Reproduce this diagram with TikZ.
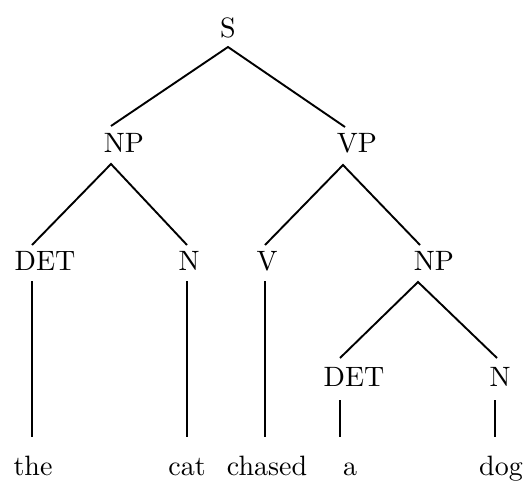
\documentclass[tikz,border=0pt]{standalone}
\usepackage{fontspec}
\setmainfont{lmroman10-regular}[Extension=.otf]
\begin{document}
\begin{tikzpicture}[x=1pt,y=-1pt,
  lbl/.style={anchor=base,inner sep=0pt,font=\fontsize{28}{34}\selectfont},
  edge/.style={line width=1.9pt,line cap=butt}]
\useasboundingbox (0,0) rectangle (526,481);
% labels
\node[lbl] (S) at (228,38) {S};
\node[lbl] (NP) at (124,152) {NP};
\node[lbl] (VP) at (357,152) {VP};
\node[lbl] (DETa) at (45,270) {DET};
\node[lbl] (Na) at (189,270) {N};
\node[lbl] (V) at (267,270) {V};
\node[lbl] (NPb) at (434,270) {NP};
\node[lbl] (DETb) at (354,386) {DET};
\node[lbl] (Nb) at (500,386) {N};
\node[lbl] (the) at (33,475) {the};
\node[lbl] (cat) at (187,475) {cat};
\node[lbl] (chased) at (267,475) {chased};
\node[lbl] (a) at (350,475) {a};
\node[lbl] (dog) at (501,475) {dog};
% attachment points
\coordinate (S-b) at (228,47);
\coordinate (NP-t) at (111,126);
\coordinate (NP-b) at (111,164);
\coordinate (VP-t) at (345,127);
\coordinate (VP-b) at (343,165);
\coordinate (DETa-t) at (32,245);
\coordinate (DETa-b) at (32,281);
\coordinate (Na-t) at (187,245);
\coordinate (Na-b) at (187,281);
\coordinate (V-t) at (265,245);
\coordinate (V-b) at (265,281);
\coordinate (NPb-t) at (420,245);
\coordinate (NPb-b) at (418,282);
\coordinate (DETb-t) at (340,358);
\coordinate (DETb-b) at (340,400);
\coordinate (Nb-t) at (497,358);
\coordinate (Nb-b) at (495,400);
\coordinate (the-t) at (32,437);
\coordinate (cat-t) at (187,437);
\coordinate (chased-t) at (265,437);
\coordinate (a-t) at (340,437);
\coordinate (dog-t) at (495,437);
% edges
\draw[edge] (NP-t) -- (S-b) -- (VP-t);
\draw[edge] (DETa-t) -- (NP-b) -- (Na-t);
\draw[edge] (V-t) -- (VP-b) -- (NPb-t);
\draw[edge] (DETb-t) -- (NPb-b) -- (Nb-t);
\draw[edge] (DETa-b) -- (the-t);
\draw[edge] (Na-b) -- (cat-t);
\draw[edge] (V-b) -- (chased-t);
\draw[edge] (DETb-b) -- (a-t);
\draw[edge] (Nb-b) -- (dog-t);
\end{tikzpicture}
\end{document}
